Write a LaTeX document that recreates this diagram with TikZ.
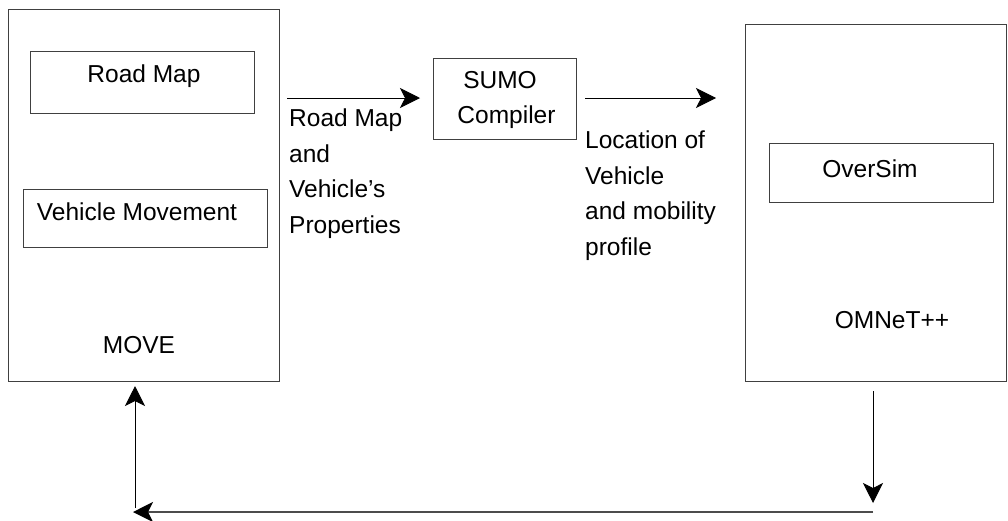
\documentclass[tikz,border=0pt]{standalone}
\usepackage{fontspec}
\setmainfont{Liberation Sans}
\usetikzlibrary{arrows.meta}
\begin{document}
\begin{tikzpicture}[x=1pt,y=-1pt,
  box/.style={draw=black!75, line width=1pt, rectangle, inner sep=0pt},
  txt/.style={inner sep=0pt, font=\fontsize{24.5}{35.5}\selectfont},
  tip/.style={-{Stealth[length=20pt,width=20pt,inset=5pt,color=black]}},
  arr/.style={draw=black, line width=1pt, tip},
  ln/.style={draw=black!70, line width=1.5pt}]
\useasboundingbox (0,0) rectangle (1008,520);
% boxes
\node[box, minimum width=271pt, minimum height=372pt] (move) at (143.5,195) {};
\node[box, minimum width=224pt, minimum height=62pt] (roadmap) at (142,82) {};
\node[box, minimum width=244pt, minimum height=58pt] (vehmov) at (145,218) {};
\node[box, minimum width=143pt, minimum height=81pt] (sumo) at (504.5,98.5) {};
\node[box, minimum width=261pt, minimum height=357pt] (omnet) at (875.5,202.5) {};
\node[box, minimum width=224pt, minimum height=59pt] (oversim) at (881,172.5) {};
% texts
\node[txt, anchor=base] (troad) at (144,82) {Road Map};
\node[txt, anchor=base] (tveh) at (137,220) {Vehicle Movement};
\node[txt, anchor=base] (tmove) at (139,353) {MOVE};
\node[txt, anchor=base] (tsumo1) at (500,88) {SUMO};
\node[txt, anchor=base] (tsumo2) at (506.5,123) {Compiler};
\node[txt, anchor=base] (tover) at (870,177) {OverSim};
\node[txt, anchor=base] (tomnet) at (892,328) {OMNeT++};
\node[txt, anchor=base west, align=left] (lab1) at (289,233) {Road Map\\and\\Vehicle’s\\Properties};
\node[txt, anchor=base west, align=left] (lab2) at (585,255) {Location of\\Vehicle\\and mobility\\profile};
% connector coordinates
\coordinate (a1s) at (287,98);
\coordinate (a1e) at (420,98);
\coordinate (a2s) at (585,98);
\coordinate (a2e) at (716,98);
\coordinate (d1s) at (873,391);
\coordinate (d1e) at (873,503);
\coordinate (b1s) at (873,512);
\coordinate (b1e) at (133,512);
\coordinate (u1s) at (135,508);
\coordinate (u1e) at (135,386);
\draw[arr] (a1s) -- (a1e);
\draw[arr] (a2s) -- (a2e);
\draw[arr] (d1s) -- (d1e);
\draw[ln, tip] (b1s) -- (b1e);
\draw[arr] (u1s) -- (u1e);
\end{tikzpicture}
\end{document}
